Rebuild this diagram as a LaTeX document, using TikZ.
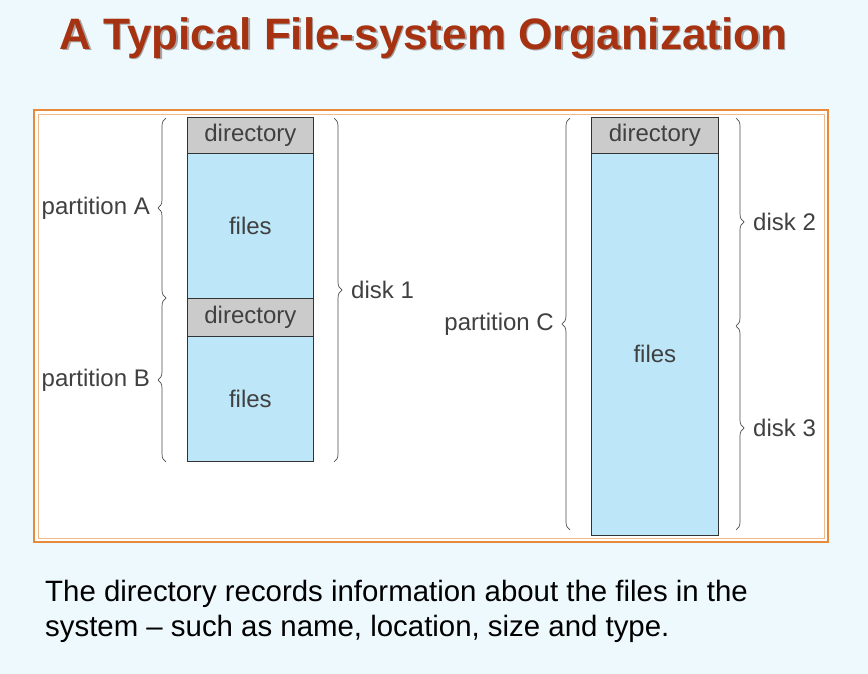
\documentclass[tikz,border=0pt]{standalone}
\usepackage{fontspec}
\setmainfont{Liberation Sans}
\usetikzlibrary{decorations.pathreplacing}
\definecolor{bg}{HTML}{EEF9FD}
\definecolor{ttl}{HTML}{A63212}
\definecolor{fileblue}{HTML}{BDE6F8}
\definecolor{dirgray}{HTML}{CBCBCB}
\definecolor{frameor}{HTML}{E88A3A}
\begin{document}
\begin{tikzpicture}[x=1pt,y=-1pt,
  blk/.style={draw=black!80,line width=0.8pt,inner sep=0pt,minimum width=126pt},
  dirbox/.style={blk,fill=dirgray},
  filebox/.style={blk,fill=fileblue},
  lbl/.style={font=\fontsize{24}{28}\selectfont,text=black!75,inner sep=1pt},
  br/.style={decorate,decoration={brace,amplitude=8pt},draw=black!70,line width=0.7pt}]
\useasboundingbox (0,0) rectangle (868,674);
\fill[bg] (0,0) rectangle (868,674);
\node[font=\bfseries\fontsize{44}{50}\selectfont,text=black!35,anchor=west] (shadow) at (57.5,39.5) {A Typical File-system Organization};
\node[font=\bfseries\fontsize{44}{50}\selectfont,text=ttl,anchor=west] (title) at (56,38) {A Typical File-system Organization};
\draw[frameor,line width=1.5pt,fill=white] (34,110) rectangle (828,542);
\draw[frameor!60,line width=0.6pt] (38,114) rectangle (824,538);
% left column
\node[dirbox,minimum height=36pt,anchor=north west] (dA) at (187,117) {};
\node[filebox,minimum height=145pt,anchor=north west] (fA) at (187,153) {};
\node[dirbox,minimum height=38pt,anchor=north west] (dB) at (187,298) {};
\node[filebox,minimum height=125pt,anchor=north west] (fB) at (187,336) {};
\node[lbl] at (dA.center) {directory};
\node[lbl] at (fA.center) {files};
\node[lbl] at (dB.center) {directory};
\node[lbl] at (fB.center) {files};
% right column
\node[dirbox,minimum width=127pt,minimum height=36pt,anchor=north west] (dC) at (591,117) {};
\node[filebox,minimum width=127pt,minimum height=382pt,anchor=north west] (fC) at (591,153) {};
\node[lbl] at (dC.center) {directory};
\node[lbl] at ([yshift=-10pt]fC.center) {files};
% braces
\draw[br] (166,462) -- (166,298) coordinate[midway,xshift=-15pt] (pB);
\draw[br] (166,298) -- (166,118) coordinate[midway,xshift=-15pt] (pA);
\draw[br] (334,118) -- (334,462) coordinate[midway,xshift=16pt] (d1);
\draw[br] (570,530) -- (570,118) coordinate[midway,xshift=-15pt] (pC);
\draw[br] (736,118) -- (736,326) coordinate[midway,xshift=16pt] (d2);
\draw[br] (736,326) -- (736,530) coordinate[midway,xshift=16pt] (d3);
\node[lbl,anchor=east] (tA) at (pA) {partition A};
\node[lbl,anchor=east] (tB) at (pB) {partition B};
\node[lbl,anchor=east] (tC) at (pC) {partition C};
\node[lbl,anchor=west] (t1) at (d1) {disk 1};
\node[lbl,anchor=west] (t2) at (d2) {disk 2};
\node[lbl,anchor=west] (t3) at (d3) {disk 3};
\node[anchor=north west,align=left,font=\fontsize{29.4}{35}\selectfont,inner sep=0pt] (cap) at (45,580)
 {The directory records information about the files in the\\system -- such as name, location, size and type.};
\end{tikzpicture}
\end{document}
